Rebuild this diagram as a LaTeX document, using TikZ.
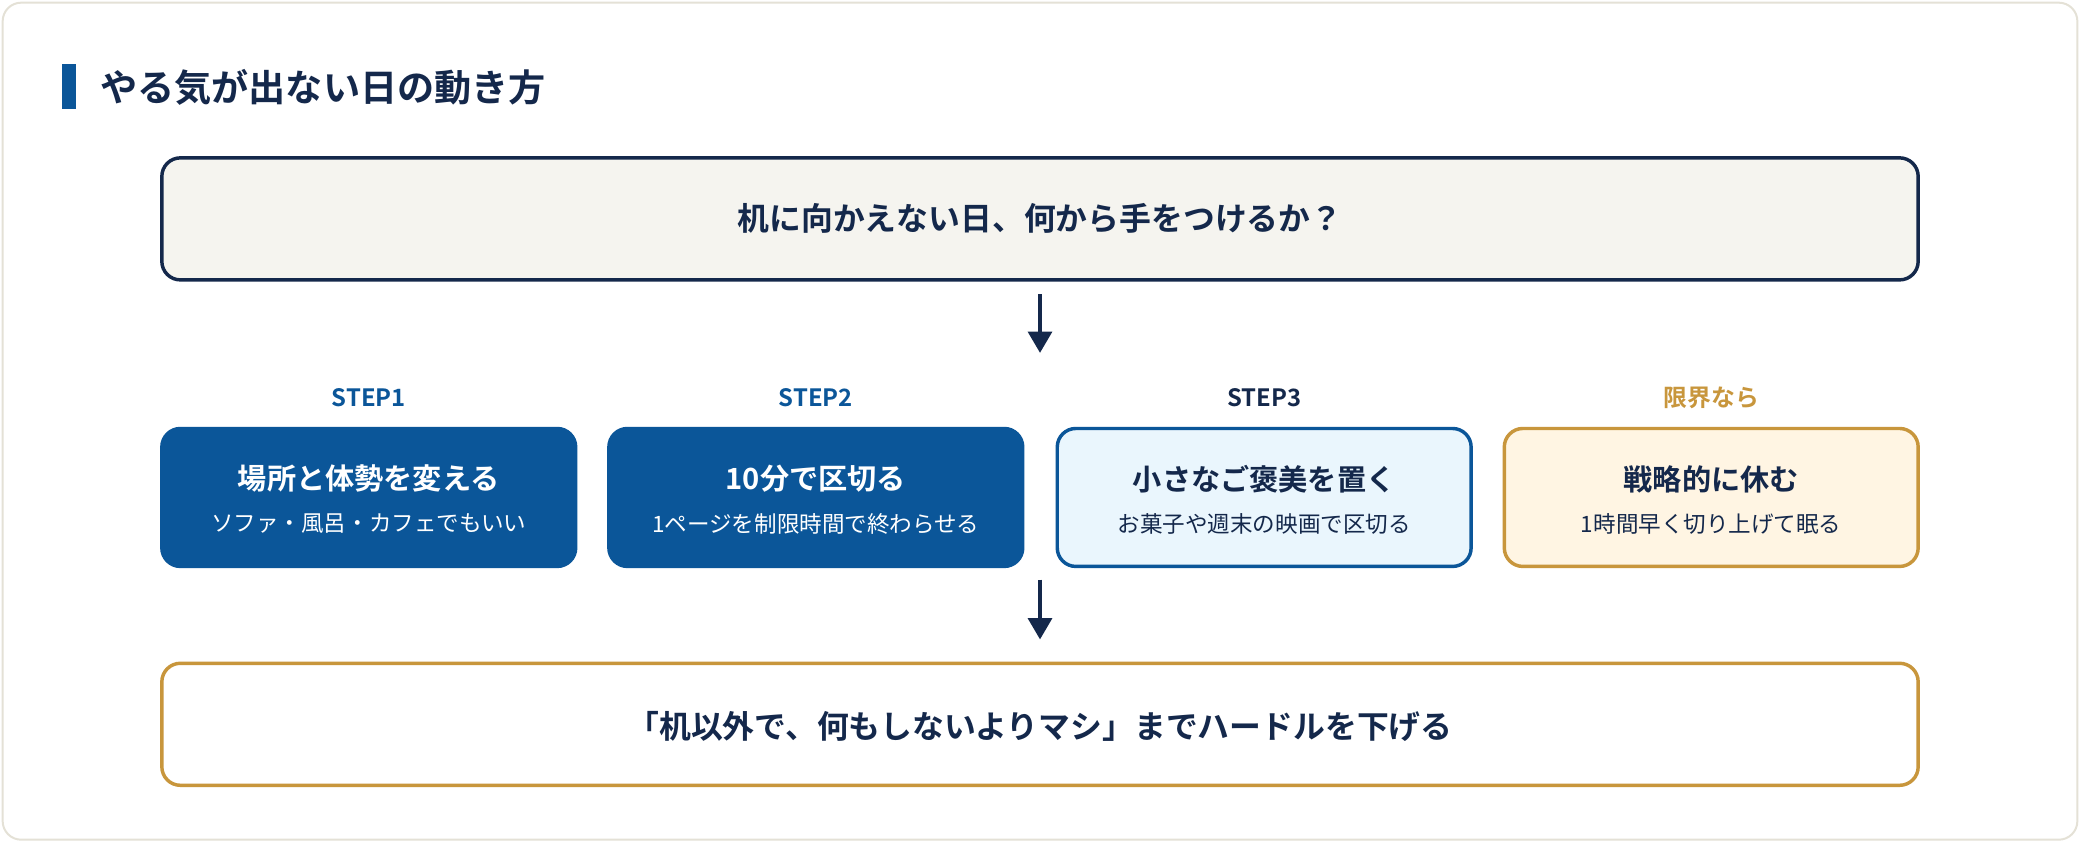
\documentclass[tikz,border=0pt]{standalone}
\usepackage{fontspec}
\setmainfont{Noto Sans CJK JP}
\newfontfamily\jb{Noto Sans CJK JP Bold}
\definecolor{navy}{HTML}{14284B}
\definecolor{blu}{HTML}{0B5699}
\definecolor{gold}{HTML}{C8963C}
\definecolor{beige}{HTML}{F5F4EF}
\definecolor{lblue}{HTML}{EAF6FD}
\definecolor{lgold}{HTML}{FFF5E3}
\definecolor{frame}{HTML}{E4E1D6}
\usetikzlibrary{arrows.meta}
\begin{document}
\begin{tikzpicture}[x=1pt,y=-1pt,
 box/.style={rounded corners=14pt,line width=2.6pt},
 lbl/.style={font=\jb\fontsize{18}{20}\selectfont},
 arr/.style={navy,line width=2.6pt,-{Triangle[length=16pt,width=18pt]}},
 ttl/.style={font=\jb\fontsize{22}{26}\selectfont},
 sub/.style={font=\fontsize{17}{20}\selectfont}]
\useasboundingbox (0,0) rectangle (1568,635);
\draw[frame,fill=white,rounded corners=14pt,line width=1.5pt] (2,2) rectangle (1566,633);
\fill[blu] (47,48) rectangle (57,82);
\node[anchor=west,navy,font=\jb\fontsize{28}{32}\selectfont] (title) at (72,66) {やる気が出ない日の動き方};
\draw[box,navy,fill=beige] (122,119) rectangle (1446,211);
\node[navy,font=\jb\fontsize{24}{28}\selectfont] (q) at (784,165) {机に向かえない日、何から手をつけるか？};
\coordinate (a1) at (784,222); \coordinate (a2) at (784,266);
\draw[arr] (a1) -- (a2);
% steps
\node[lbl,blu] (l1) at (278,300) {STEP1};
\node[lbl,blu] (l2) at (615,300) {STEP2};
\node[lbl,navy] (l3) at (953,300) {STEP3};
\node[lbl,gold] (l4) at (1290,300) {限界なら};
\draw[box,blu,fill=blu] (122,323) rectangle (434,427);
\draw[box,blu,fill=blu] (459,323) rectangle (771,427);
\draw[box,blu,fill=lblue] (797,323) rectangle (1109,427);
\draw[box,gold,fill=lgold] (1134,323) rectangle (1446,427);
\node[ttl,white] (t1) at (278,361) {場所と体勢を変える};
\node[sub,white] (s1) at (278,395) {ソファ・風呂・カフェでもいい};
\node[ttl,white] (t2) at (615,361) {10分で区切る};
\node[sub,white] (s2) at (615,395) {1ページを制限時間で終わらせる};
\node[ttl,navy] (t3) at (953,361) {小さなご褒美を置く};
\node[sub,navy] (s3) at (953,395) {お菓子や週末の映画で区切る};
\node[ttl,navy] (t4) at (1290,361) {戦略的に休む};
\node[sub,navy] (s4) at (1290,395) {1時間早く切り上げて眠る};
\coordinate (b1) at (784,437); \coordinate (b2) at (784,482);
\draw[arr] (b1) -- (b2);
\draw[box,gold,fill=white] (122,500) rectangle (1446,592);
\node[navy,font=\jb\fontsize{24}{28}\selectfont] (res) at (784,548) {「机以外で、何もしないよりマシ」までハードルを下げる};
\end{tikzpicture}
\end{document}
